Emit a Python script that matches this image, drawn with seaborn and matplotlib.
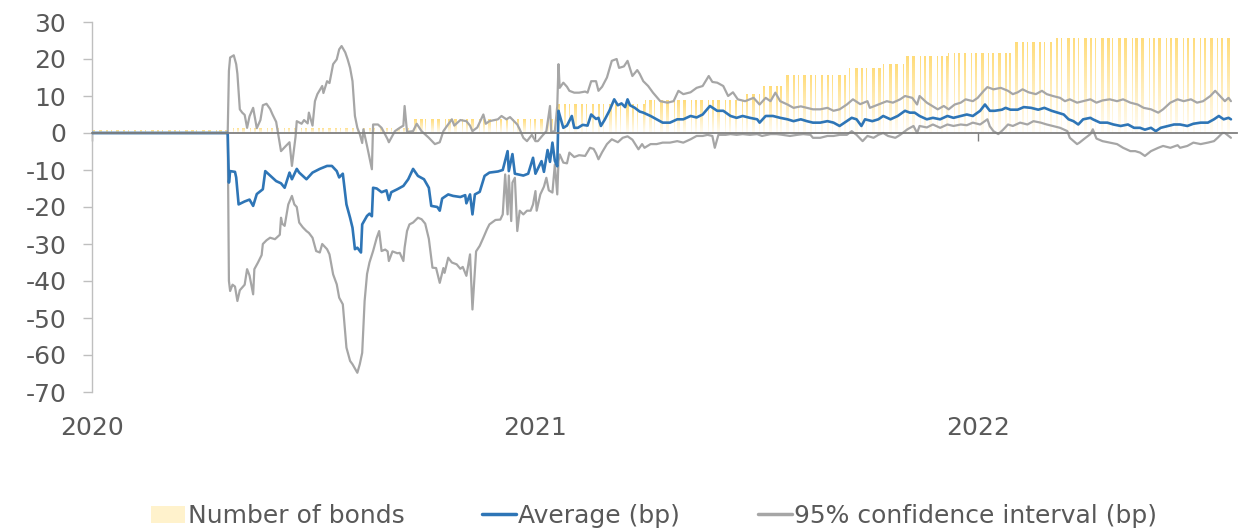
import numpy as np
import pandas as pd
import matplotlib
matplotlib.use("Agg")
import matplotlib.pyplot as plt
import matplotlib.dates as mdates
from matplotlib.patches import Patch
from matplotlib.lines import Line2D
import seaborn as sns

# ---------------------------------------------------------------- data
# Number of bonds in the sample: level changes (date of change, bar height)
bond_step_dates = ["2020-01-01", "2020-04-23", "2020-09-21", "2021-01-18",
                   "2021-04-02", "2021-06-22", "2021-07-07", "2021-07-26",
                   "2021-09-16", "2021-10-14", "2021-11-02", "2021-12-08",
                   "2022-02-01", "2022-03-07"]
bond_step_levels = [0.8, 1.4, 3.7, 7.8, 8.8, 10.5, 12.7, 15.7,
                    17.6, 18.6, 20.8, 21.7, 24.7, 25.8]
bond_last_day = "2022-07-29"

# Average spread effect (bp)
avg_dates = [
    "2020-01-01", "2020-04-22", "2020-04-23", "2020-04-24", "2020-04-28", "2020-04-29",
    "2020-05-01", "2020-05-06", "2020-05-10", "2020-05-13", "2020-05-16", "2020-05-21",
    "2020-05-23", "2020-05-27", "2020-06-01", "2020-06-05", "2020-06-08", "2020-06-12",
    "2020-06-14", "2020-06-18", "2020-06-20", "2020-06-26", "2020-07-01", "2020-07-07",
    "2020-07-13", "2020-07-17", "2020-07-21", "2020-07-23", "2020-07-26", "2020-07-29",
    "2020-08-01", "2020-08-03", "2020-08-05", "2020-08-07", "2020-08-10", "2020-08-11",
    "2020-08-15", "2020-08-17", "2020-08-19", "2020-08-20", "2020-08-23", "2020-08-27",
    "2020-08-31", "2020-09-02", "2020-09-04", "2020-09-09", "2020-09-14", "2020-09-18",
    "2020-09-22", "2020-09-26", "2020-10-01", "2020-10-05", "2020-10-07", "2020-10-12",
    "2020-10-14", "2020-10-16", "2020-10-21", "2020-10-25", "2020-10-31", "2020-11-04",
    "2020-11-05", "2020-11-08", "2020-11-10", "2020-11-12", "2020-11-16", "2020-11-20",
    "2020-11-24", "2020-12-01", "2020-12-05", "2020-12-09", "2020-12-10", "2020-12-13",
    "2020-12-15", "2020-12-22", "2020-12-26", "2020-12-30", "2021-01-01", "2021-01-06",
    "2021-01-08", "2021-01-11", "2021-01-13", "2021-01-15", "2021-01-17", "2021-01-19",
    "2021-01-20", "2021-01-21", "2021-01-24", "2021-01-27", "2021-01-31", "2021-02-02",
    "2021-02-05", "2021-02-09", "2021-02-13", "2021-02-16", "2021-02-20", "2021-02-22",
    "2021-02-24", "2021-02-27", "2021-03-03", "2021-03-07", "2021-03-10", "2021-03-13",
    "2021-03-16", "2021-03-18", "2021-03-20", "2021-03-24", "2021-03-28", "2021-03-31",
    "2021-04-06", "2021-04-11", "2021-04-16", "2021-04-22", "2021-04-28", "2021-05-03",
    "2021-05-09", "2021-05-14", "2021-05-19", "2021-05-25", "2021-05-31", "2021-06-05",
    "2021-06-11", "2021-06-16", "2021-06-21", "2021-06-27", "2021-07-03", "2021-07-05",
    "2021-07-10", "2021-07-16", "2021-07-22", "2021-07-28", "2021-08-02", "2021-08-08",
    "2021-08-13", "2021-08-18", "2021-08-24", "2021-08-30", "2021-09-04", "2021-09-09",
    "2021-09-15", "2021-09-19", "2021-09-23", "2021-09-27", "2021-09-30", "2021-10-06",
    "2021-10-11", "2021-10-15", "2021-10-21", "2021-10-27", "2021-11-02", "2021-11-06",
    "2021-11-10", "2021-11-14", "2021-11-20", "2021-11-25", "2021-12-01", "2021-12-07",
    "2021-12-12", "2021-12-18", "2021-12-23", "2021-12-28", "2022-01-03", "2022-01-07",
    "2022-01-11", "2022-01-15", "2022-01-21", "2022-01-24", "2022-01-28", "2022-02-03",
    "2022-02-08", "2022-02-14", "2022-02-20", "2022-02-25", "2022-03-03", "2022-03-08",
    "2022-03-13", "2022-03-17", "2022-03-21", "2022-03-25", "2022-03-29", "2022-04-04",
    "2022-04-06", "2022-04-12", "2022-04-18", "2022-04-23", "2022-04-29", "2022-05-05",
    "2022-05-10", "2022-05-15", "2022-05-19", "2022-05-24", "2022-05-28", "2022-06-01",
    "2022-06-07", "2022-06-12", "2022-06-17", "2022-06-23", "2022-06-28", "2022-07-04",
    "2022-07-10", "2022-07-15", "2022-07-19", "2022-07-23", "2022-07-27", "2022-07-29",
]
avg_bp = [
    0.0, 0.0, -13.4, -10.3, -10.5, -12.0,
    -19.3, -18.5, -18.0, -19.7, -16.5, -15.2,
    -10.3, -11.5, -13.0, -13.6, -14.8, -10.7,
    -12.5, -9.7, -10.7, -12.5, -10.7, -9.7,
    -8.9, -8.9, -10.3, -12.0, -11.0, -19.3,
    -22.9, -25.6, -31.4, -31.0, -32.3, -24.7,
    -22.4, -21.8, -22.5, -14.8, -15.0, -16.0,
    -15.5, -18.1, -16.0, -15.2, -14.3, -12.5,
    -9.7, -11.6, -12.5, -14.8, -19.7, -20.0,
    -21.0, -17.7, -16.6, -17.0, -17.3, -16.8,
    -19.0, -16.6, -22.0, -16.6, -15.9, -11.6,
    -10.7, -10.4, -10.0, -4.9, -10.3, -5.7,
    -11.0, -11.5, -11.0, -6.7, -11.0, -7.6,
    -10.5, -4.6, -7.8, -2.6, -7.5, -9.0,
    6.0, 4.8, 1.4, 2.0, 4.6, 1.4,
    1.4, 2.2, 2.0, 5.0, 3.8, 4.1,
    1.9, 3.5, 6.0, 9.1, 7.5, 8.0,
    7.0, 9.1, 7.5, 6.8, 5.8, 5.5,
    4.6, 3.7, 2.8, 2.8, 3.7, 3.7,
    4.6, 4.2, 5.0, 7.3, 6.0, 6.0,
    4.6, 4.1, 4.6, 4.1, 3.7, 2.8,
    4.6, 4.6, 4.1, 3.7, 3.2, 3.7,
    3.2, 2.8, 2.8, 3.2, 2.8, 1.9,
    3.2, 4.1, 3.7, 1.9, 3.7, 3.2,
    3.7, 4.6, 3.7, 4.6, 6.0, 5.5,
    5.5, 4.6, 3.7, 4.1, 3.7, 4.6,
    4.1, 4.6, 5.0, 4.6, 6.0, 7.7,
    6.0, 6.0, 6.3, 6.8, 6.3, 6.3,
    7.0, 6.8, 6.3, 6.8, 6.0, 5.5,
    5.0, 3.7, 3.2, 2.3, 3.7, 4.1,
    3.7, 2.8, 2.8, 2.3, 1.9, 2.3,
    1.4, 1.4, 0.9, 1.4, 0.5, 1.4,
    1.9, 2.3, 2.3, 1.9, 2.5, 2.8,
    2.8, 3.7, 4.6, 3.7, 4.1, 3.7,
]

# Upper bound of the 95% confidence interval (bp)
upper_dates = [
    "2020-01-01", "2020-04-22", "2020-04-23", "2020-04-24", "2020-04-27", "2020-04-29",
    "2020-04-30", "2020-05-02", "2020-05-04", "2020-05-06", "2020-05-08", "2020-05-10",
    "2020-05-13", "2020-05-16", "2020-05-19", "2020-05-21", "2020-05-24", "2020-05-27",
    "2020-05-29", "2020-06-01", "2020-06-05", "2020-06-09", "2020-06-12", "2020-06-14",
    "2020-06-17", "2020-06-18", "2020-06-22", "2020-06-24", "2020-06-27", "2020-06-28",
    "2020-07-01", "2020-07-03", "2020-07-05", "2020-07-09", "2020-07-10", "2020-07-13",
    "2020-07-15", "2020-07-18", "2020-07-21", "2020-07-23", "2020-07-25", "2020-07-28",
    "2020-07-30", "2020-08-01", "2020-08-03", "2020-08-05", "2020-08-07", "2020-08-09",
    "2020-08-11", "2020-08-12", "2020-08-15", "2020-08-17", "2020-08-19", "2020-08-20",
    "2020-08-24", "2020-08-27", "2020-09-01", "2020-09-02", "2020-09-07", "2020-09-11",
    "2020-09-14", "2020-09-15", "2020-09-17", "2020-09-22", "2020-09-25", "2020-09-29",
    "2020-10-05", "2020-10-10", "2020-10-14", "2020-10-17", "2020-10-20", "2020-10-24",
    "2020-10-26", "2020-10-31", "2020-11-05", "2020-11-08", "2020-11-10", "2020-11-14",
    "2020-11-19", "2020-11-21", "2020-11-24", "2020-12-01", "2020-12-04", "2020-12-08",
    "2020-12-11", "2020-12-17", "2020-12-19", "2020-12-22", "2020-12-25", "2020-12-29",
    "2021-01-01", "2021-01-03", "2021-01-06", "2021-01-10", "2021-01-13", "2021-01-14",
    "2021-01-17", "2021-01-19", "2021-01-20", "2021-01-21", "2021-01-24", "2021-01-27",
    "2021-01-29", "2021-02-02", "2021-02-06", "2021-02-11", "2021-02-13", "2021-02-16",
    "2021-02-20", "2021-02-22", "2021-02-25", "2021-03-01", "2021-03-05", "2021-03-09",
    "2021-03-11", "2021-03-15", "2021-03-18", "2021-03-22", "2021-03-26", "2021-03-28",
    "2021-03-31", "2021-04-04", "2021-04-08", "2021-04-14", "2021-04-20", "2021-04-25",
    "2021-04-29", "2021-05-03", "2021-05-09", "2021-05-14", "2021-05-19", "2021-05-24",
    "2021-05-27", "2021-05-31", "2021-06-05", "2021-06-09", "2021-06-13", "2021-06-17",
    "2021-06-23", "2021-06-30", "2021-07-05", "2021-07-10", "2021-07-14", "2021-07-18",
    "2021-07-22", "2021-07-28", "2021-08-02", "2021-08-08", "2021-08-13", "2021-08-18",
    "2021-08-24", "2021-08-30", "2021-09-04", "2021-09-09", "2021-09-15", "2021-09-20",
    "2021-09-26", "2021-10-02", "2021-10-04", "2021-10-11", "2021-10-18", "2021-10-23",
    "2021-10-29", "2021-11-02", "2021-11-08", "2021-11-12", "2021-11-14", "2021-11-20",
    "2021-11-29", "2021-12-04", "2021-12-08", "2021-12-13", "2021-12-18", "2021-12-22",
    "2021-12-28", "2022-01-01", "2022-01-06", "2022-01-09", "2022-01-14", "2022-01-20",
    "2022-01-26", "2022-01-30", "2022-02-03", "2022-02-07", "2022-02-12", "2022-02-18",
    "2022-02-23", "2022-02-27", "2022-03-04", "2022-03-10", "2022-03-14", "2022-03-18",
    "2022-03-24", "2022-03-29", "2022-04-04", "2022-04-09", "2022-04-14", "2022-04-20",
    "2022-04-26", "2022-05-01", "2022-05-07", "2022-05-13", "2022-05-18", "2022-05-24",
    "2022-05-30", "2022-06-03", "2022-06-09", "2022-06-15", "2022-06-20", "2022-06-26",
    "2022-07-01", "2022-07-06", "2022-07-12", "2022-07-16", "2022-07-20", "2022-07-24",
    "2022-07-27", "2022-07-29",
]
upper_bp = [
    0.0, 0.0, 16.8, 20.4, 21.0, 18.6,
    16.0, 6.4, 5.5, 4.9, 1.4, 4.5,
    6.8, 1.3, 3.5, 7.5, 7.9, 6.5,
    5.0, 3.0, -4.9, -3.5, -2.5, -8.9,
    -1.0, 3.2, 2.5, 3.5, 2.6, 5.5,
    2.0, 8.6, 10.5, 12.7, 10.8, 14.0,
    13.5, 18.6, 19.9, 22.6, 23.5, 21.8,
    19.9, 17.6, 14.0, 4.6, 1.4, -0.3,
    -2.7, 1.0, -3.5, -6.7, -9.8, 2.3,
    2.3, 1.4, -1.7, -2.5, 0.5, 1.4,
    2.0, 7.3, 0.3, 0.5, 2.5, 0.5,
    -1.3, -3.0, -2.5, 0.5, 1.9, 3.7,
    2.0, 3.5, 3.2, 2.0, 0.5, 1.5,
    5.0, 2.5, 3.2, 3.7, 4.6, 3.7,
    4.3, 2.3, 1.0, -1.3, -2.2, -0.5,
    -2.2, -2.2, -1.0, 0.5, 7.3, 0.3,
    0.5, 7.3, 18.6, 12.2, 13.6, 12.5,
    11.4, 10.9, 10.9, 11.2, 10.9, 14.0,
    14.0, 11.4, 12.5, 15.0, 19.5, 20.0,
    17.6, 18.0, 19.5, 15.4, 17.0, 16.0,
    14.0, 12.7, 10.9, 8.6, 8.2, 8.6,
    11.4, 10.5, 11.0, 12.2, 12.7, 15.4,
    13.8, 13.6, 12.7, 10.0, 11.0, 9.1,
    8.6, 9.5, 7.7, 9.5, 8.6, 10.9,
    8.6, 7.7, 6.8, 7.2, 6.8, 6.4,
    6.4, 6.8, 6.0, 6.4, 7.7, 9.1,
    7.8, 8.6, 6.8, 7.7, 8.6, 8.2,
    9.1, 10.0, 9.5, 7.7, 10.0, 8.2,
    6.4, 7.3, 6.4, 7.7, 8.2, 9.1,
    8.6, 9.5, 11.4, 12.4, 11.8, 12.2,
    11.4, 10.5, 11.0, 11.8, 11.0, 10.5,
    11.4, 10.5, 10.0, 9.5, 8.6, 9.1,
    8.2, 8.6, 9.1, 8.2, 8.8, 9.1,
    8.6, 9.1, 8.2, 7.7, 6.8, 6.4,
    5.5, 6.4, 8.2, 9.1, 8.6, 9.1,
    8.2, 8.6, 10.0, 11.4, 10.0, 8.6,
    9.5, 8.6,
]

# Lower bound of the 95% confidence interval (bp)
lower_dates = [
    "2020-01-01", "2020-04-22", "2020-04-23", "2020-04-24", "2020-04-26", "2020-04-28",
    "2020-04-30", "2020-05-02", "2020-05-06", "2020-05-08", "2020-05-10", "2020-05-13",
    "2020-05-14", "2020-05-17", "2020-05-20", "2020-05-21", "2020-05-24", "2020-05-27",
    "2020-05-31", "2020-06-04", "2020-06-05", "2020-06-06", "2020-06-08", "2020-06-11",
    "2020-06-14", "2020-06-16", "2020-06-18", "2020-06-20", "2020-06-23", "2020-06-26",
    "2020-06-28", "2020-07-01", "2020-07-04", "2020-07-07", "2020-07-09", "2020-07-13",
    "2020-07-15", "2020-07-18", "2020-07-21", "2020-07-23", "2020-07-26", "2020-07-29",
    "2020-08-01", "2020-08-03", "2020-08-07", "2020-08-09", "2020-08-11", "2020-08-13",
    "2020-08-15", "2020-08-17", "2020-08-20", "2020-08-23", "2020-08-25", "2020-08-27",
    "2020-08-30", "2020-09-01", "2020-09-02", "2020-09-05", "2020-09-09", "2020-09-11",
    "2020-09-14", "2020-09-15", "2020-09-17", "2020-09-19", "2020-09-22", "2020-09-26",
    "2020-09-29", "2020-10-02", "2020-10-05", "2020-10-08", "2020-10-11", "2020-10-14",
    "2020-10-17", "2020-10-18", "2020-10-21", "2020-10-24", "2020-10-28", "2020-10-31",
    "2020-11-02", "2020-11-05", "2020-11-08", "2020-11-10", "2020-11-13", "2020-11-16",
    "2020-11-19", "2020-11-22", "2020-11-24", "2020-11-29", "2020-12-03", "2020-12-05",
    "2020-12-07", "2020-12-09", "2020-12-10", "2020-12-12", "2020-12-13", "2020-12-15",
    "2020-12-17", "2020-12-19", "2020-12-22", "2020-12-25", "2020-12-28", "2020-12-30",
    "2021-01-01", "2021-01-02", "2021-01-05", "2021-01-08", "2021-01-10", "2021-01-12",
    "2021-01-15", "2021-01-17", "2021-01-19", "2021-01-20", "2021-01-21", "2021-01-24",
    "2021-01-27", "2021-01-29", "2021-02-02", "2021-02-06", "2021-02-11", "2021-02-15",
    "2021-02-18", "2021-02-20", "2021-02-22", "2021-02-25", "2021-03-01", "2021-03-05",
    "2021-03-10", "2021-03-14", "2021-03-18", "2021-03-22", "2021-03-27", "2021-03-30",
    "2021-04-01", "2021-04-06", "2021-04-11", "2021-04-16", "2021-04-22", "2021-04-28",
    "2021-05-03", "2021-05-09", "2021-05-14", "2021-05-19", "2021-05-23", "2021-05-27",
    "2021-05-29", "2021-06-01", "2021-06-07", "2021-06-11", "2021-06-16", "2021-06-21",
    "2021-06-27", "2021-07-03", "2021-07-07", "2021-07-14", "2021-07-19", "2021-07-24",
    "2021-07-30", "2021-08-05", "2021-08-10", "2021-08-16", "2021-08-18", "2021-08-24",
    "2021-08-30", "2021-09-04", "2021-09-09", "2021-09-15", "2021-09-19", "2021-09-23",
    "2021-09-28", "2021-10-02", "2021-10-07", "2021-10-11", "2021-10-15", "2021-10-19",
    "2021-10-25", "2021-10-29", "2021-11-04", "2021-11-09", "2021-11-12", "2021-11-14",
    "2021-11-20", "2021-11-25", "2021-12-01", "2021-12-07", "2021-12-12", "2021-12-18",
    "2021-12-23", "2021-12-28", "2022-01-03", "2022-01-09", "2022-01-11", "2022-01-14",
    "2022-01-18", "2022-01-22", "2022-01-26", "2022-01-30", "2022-02-05", "2022-02-11",
    "2022-02-16", "2022-02-22", "2022-02-27", "2022-03-04", "2022-03-10", "2022-03-16",
    "2022-03-18", "2022-03-24", "2022-03-26", "2022-03-31", "2022-04-04", "2022-04-06",
    "2022-04-09", "2022-04-14", "2022-04-20", "2022-04-26", "2022-05-01", "2022-05-07",
    "2022-05-11", "2022-05-15", "2022-05-19", "2022-05-24", "2022-05-30", "2022-06-03",
    "2022-06-09", "2022-06-15", "2022-06-17", "2022-06-23", "2022-06-28", "2022-07-04",
    "2022-07-10", "2022-07-15", "2022-07-18", "2022-07-22", "2022-07-24", "2022-07-27",
    "2022-07-29",
]
lower_bp = [
    0.0, 0.0, -40.0, -42.7, -41.0, -41.5,
    -45.4, -42.5, -41.0, -36.8, -38.5, -43.6,
    -36.8, -35.0, -33.0, -30.0, -29.0, -28.3,
    -28.7, -27.5, -22.9, -24.5, -25.1, -19.3,
    -17.0, -19.3, -20.0, -24.2, -25.5, -26.5,
    -27.0, -28.3, -31.9, -32.3, -30.0, -31.4,
    -32.8, -38.2, -40.9, -44.5, -46.3, -58.0,
    -61.6, -62.5, -64.8, -62.5, -59.4, -45.4,
    -38.1, -35.0, -31.9, -28.3, -26.5, -31.9,
    -31.5, -32.0, -34.6, -32.0, -32.5, -32.4,
    -34.6, -31.0, -26.5, -24.7, -24.2, -22.9,
    -23.3, -24.5, -28.6, -36.4, -36.5, -40.5,
    -36.5, -37.8, -33.7, -35.0, -35.5, -36.7,
    -36.2, -38.6, -32.8, -47.7, -32.0, -30.5,
    -28.3, -26.0, -24.7, -23.5, -23.4, -22.0,
    -11.2, -22.0, -11.5, -23.8, -13.4, -12.1,
    -26.5, -21.0, -22.0, -21.0, -21.0, -19.3,
    -15.7, -21.0, -16.6, -14.5, -12.1, -15.5,
    -16.1, -8.5, -16.6, -7.6, -5.8, -8.0,
    -8.2, -5.3, -6.5, -6.0, -6.2, -4.0,
    -4.3, -5.5, -7.1, -5.2, -3.0, -1.7,
    -2.5, -1.3, -0.9, -1.8, -4.4, -3.0,
    -4.0, -3.0, -3.0, -2.6, -2.6, -2.2,
    -2.6, -1.7, -0.8, -0.8, -0.5, -0.8,
    -4.0, -0.5, -0.5, -0.3, -0.5, -0.3,
    -0.5, -0.3, -0.8, -0.3, -0.3, -0.5,
    -0.8, -0.5, -0.3, -0.5, -1.3, -1.3,
    -0.8, -0.8, -0.5, -0.5, 0.5, -0.5,
    -2.2, -0.8, -1.3, -0.5, 0.0, -0.8,
    -1.3, -0.5, 1.0, 1.9, 0.0, 1.9,
    1.5, 2.3, 1.4, 2.3, 1.9, 2.3,
    2.1, 2.8, 2.3, 3.7, 1.8, 0.5,
    -0.3, 0.9, 2.3, 1.9, 2.8, 2.3,
    3.2, 2.8, 2.3, 1.9, 1.4, 0.5,
    -1.3, -3.0, -2.6, -1.3, -0.3, 1.0,
    -1.5, -2.2, -2.6, -3.0, -4.0, -4.9,
    -4.9, -5.3, -6.2, -4.9, -4.0, -3.5,
    -4.0, -3.3, -4.0, -3.5, -2.6, -3.0,
    -2.6, -2.2, -1.3, 0.0, 0.0, -0.8,
    -1.3,
]

y_ticks = [30, 20, 10, 0, -10, -20, -30, -40, -50, -60, -70]
year_ticks = ["2020-01-01", "2021-01-01", "2022-01-01"]
year_labels = ["2020", "2021", "2022"]
legend_labels = ["Number of bonds", "Average (bp)", "95% confidence interval (bp)"]

# ---------------------------------------------------------------- style
BLUE = "#2E75B6"
GREY = "#A6A6A6"
BAR_TOP = "#FFDC7A"
BAR_LEGEND = "#FFF2CC"
TEXT = "#595959"
FS = 18

sns.set_theme(style="white")
plt.rcParams["font.family"] = ["DejaVu Sans"]
plt.rcParams["axes.unicode_minus"] = False

W, H = 1246, 531
fig = plt.figure(figsize=(W / 100, H / 100), dpi=100)
ax = fig.add_axes([92 / W, 1 - 392 / H, (1237 - 92) / W, (392 - 22) / H])

# ---------------------------------------------------------------- bars
bdays = pd.bdate_range(bond_step_dates[0], bond_last_day)
step_idx = np.searchsorted(pd.to_datetime(bond_step_dates).values, bdays.values, side="right") - 1
bar_heights = np.asarray(bond_step_levels)[step_idx]
bars = ax.bar(bdays, bar_heights, width=0.5, color=BAR_TOP, linewidth=0, zorder=1)

# white veil that fades each block of bars from the base (opaque) to the top (clear)
veil = np.ones((128, 1, 4))
veil[:, 0, 3] = np.linspace(0.93, 0.0, 128)
patches = bars.patches
for k, level in enumerate(bond_step_levels):
    members = [p for p, s in zip(patches, step_idx) if s == k]
    if not members:
        continue
    x_lo = members[0].get_x()
    x_hi = members[-1].get_x() + members[-1].get_width()
    ax.imshow(veil, origin="lower", aspect="auto", extent=[x_lo, x_hi, 0, level],
              zorder=1.5, interpolation="bilinear")

# ---------------------------------------------------------------- lines
upper_df = pd.DataFrame({"date": pd.to_datetime(upper_dates), "bp": upper_bp})
lower_df = pd.DataFrame({"date": pd.to_datetime(lower_dates), "bp": lower_bp})
avg_df = pd.DataFrame({"date": pd.to_datetime(avg_dates), "bp": avg_bp})

sns.lineplot(data=upper_df, x="date", y="bp", ax=ax, color=GREY, linewidth=1.6,
             errorbar=None, legend=False, zorder=3)
sns.lineplot(data=lower_df, x="date", y="bp", ax=ax, color=GREY, linewidth=1.6,
             errorbar=None, legend=False, zorder=3)
sns.lineplot(data=avg_df, x="date", y="bp", ax=ax, color=BLUE, linewidth=1.9,
             errorbar=None, legend=False, zorder=4)

# ---------------------------------------------------------------- axes
ax.set_xlim(pd.Timestamp("2020-01-01"), pd.Timestamp("2022-08-03"))
ax.set_ylim(-70, 30)
ax.set_yticks(y_ticks)
ax.set_yticklabels([str(t) for t in y_ticks])
ax.set_xlabel("")
ax.set_ylabel("")

for side in ("top", "right"):
    ax.spines[side].set_visible(False)
ax.spines["left"].set_color("#BFBFBF")
ax.spines["left"].set_linewidth(1.0)
ax.spines["bottom"].set_position(("data", 0))
ax.spines["bottom"].set_color("#7F7F7F")
ax.spines["bottom"].set_linewidth(1.3)
ax.spines["bottom"].set_zorder(5)

ax.set_xticks(pd.to_datetime(year_ticks))
ax.tick_params(axis="x", direction="out", length=6, width=1.0, color="#7F7F7F",
               labelbottom=False, bottom=True)
ax.tick_params(axis="y", direction="out", length=6.5, width=1.0, color="#BFBFBF",
               pad=12, labelsize=FS, labelcolor=TEXT, left=True)

# year labels along the bottom edge of the plot area
sec = ax.secondary_xaxis("bottom")
sec.set_xticks(mdates.date2num(pd.to_datetime(year_ticks)), labels=year_labels)
sec.spines["bottom"].set_visible(False)
sec.tick_params(axis="x", length=0, pad=17, labelsize=FS, labelcolor=TEXT)

# ---------------------------------------------------------------- legend
handles = [Patch(facecolor=BAR_LEGEND, edgecolor="none"),
           Line2D([], [], color=BLUE, linewidth=2.5),
           Line2D([], [], color=GREY, linewidth=2.5)]
fig.legend(handles, legend_labels, loc="center", bbox_to_anchor=(0.525, 1 - 516 / H),
           ncol=3, frameon=False, fontsize=FS, handlelength=1.36, handletextpad=0.1,
           columnspacing=3.1, labelcolor=TEXT)

fig.savefig("out.png", dpi=100)
